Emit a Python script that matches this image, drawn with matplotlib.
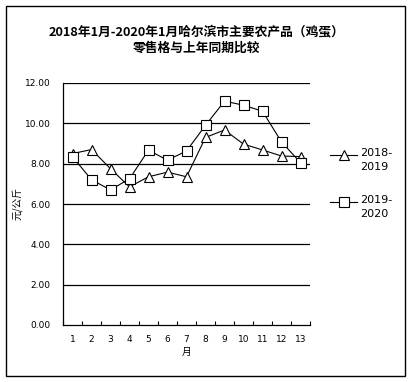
import matplotlib
matplotlib.use("Agg")
import matplotlib.pyplot as plt
from matplotlib.patches import Rectangle
from matplotlib.lines import Line2D

plt.rcParams['font.family'] = ['Noto Sans CJK SC', 'DejaVu Sans']

months = list(range(1, 14))
month_labels = [str(m) for m in months]
s1_name = "2018-\n2019"
s2_name = "2019-\n2020"
s1 = [8.5, 8.7, 7.75, 6.85, 7.35, 7.58, 7.35, 9.3, 9.67, 8.97, 8.68, 8.38, 8.35]
s2 = [8.35, 7.2, 6.7, 7.25, 8.67, 8.17, 8.63, 9.9, 11.1, 10.9, 10.6, 9.08, 8.05]
yticks = [0, 2, 4, 6, 8, 10, 12]
title = "2018年1月-2020年1月哈尔滨市主要农产品（鸡蛋）\n零售格与上年同期比较"

W, H = 411, 382
fig = plt.figure(figsize=(W / 100, H / 100), dpi=100)
fig.patches.append(Rectangle((6 / W, 6 / H), 399 / W, 370 / H, transform=fig.transFigure,
                             fill=False, edgecolor='black', linewidth=1.0))

ax = fig.add_axes([63 / W, 57 / H, 247 / W, 242 / H])
styles = [dict(marker='^', markersize=7.5), dict(marker='s', markersize=7)]
common = dict(color='black', lw=0.8, markerfacecolor='white', markeredgecolor='black',
              markeredgewidth=0.8)
ax.plot(months, s1, zorder=3, **common, **styles[0])
ax.plot(months, s2, zorder=3, **common, **styles[1])

ax.set_xlim(0.5, 13.5)
ax.set_ylim(0, 12)
ax.set_yticks(yticks)
ax.set_yticklabels([f"{v:.2f}" for v in yticks], fontsize=6.5, family='DejaVu Sans')
ax.set_xticks(months)
ax.set_xticklabels(month_labels, fontsize=6.5, family='DejaVu Sans')
ax.set_xticks([m + 0.5 for m in range(0, 14)], minor=True)
ax.tick_params(axis='x', which='major', length=0, pad=7)
ax.tick_params(axis='x', which='minor', length=3, direction='in', width=0.8)
ax.tick_params(axis='y', length=0, pad=9)
for y in yticks[1:]:
    ax.axhline(y, color='black', lw=0.9, zorder=1)
for sp in ['top', 'right']:
    ax.spines[sp].set_visible(False)
ax.spines['left'].set_linewidth(0.9)
ax.spines['bottom'].set_linewidth(0.9)

ax.set_xlabel("月", fontsize=7, labelpad=2)
fig.text(17 / W, 1 - 203 / H, "元/公斤", rotation=90, ha='center', va='center', fontsize=7)

fig.text(197 / W, 1 - 40 / H, title, ha='center', va='center', fontsize=9.2,
         fontweight='bold', linespacing=1.35)

# legend, drawn by hand to match the reference layout
leg_y = [155, 202]
for name, st, yy in zip([s1_name, s2_name], styles, leg_y):
    yf = 1 - yy / H
    fig.add_artist(Line2D([330 / W, 357 / W], [yf, yf], color='black', lw=0.8,
                          transform=fig.transFigure))
    fig.add_artist(Line2D([343.5 / W], [yf], transform=fig.transFigure, linestyle='none',
                          markerfacecolor='white', markeredgecolor='black',
                          markeredgewidth=0.8, **st))
    fig.text(360 / W, yf + 7 / H, name, ha='left', va='top', fontsize=8,
             family='DejaVu Sans', linespacing=1.45,
             transform=fig.transFigure)

fig.savefig("out.png", dpi=100)
